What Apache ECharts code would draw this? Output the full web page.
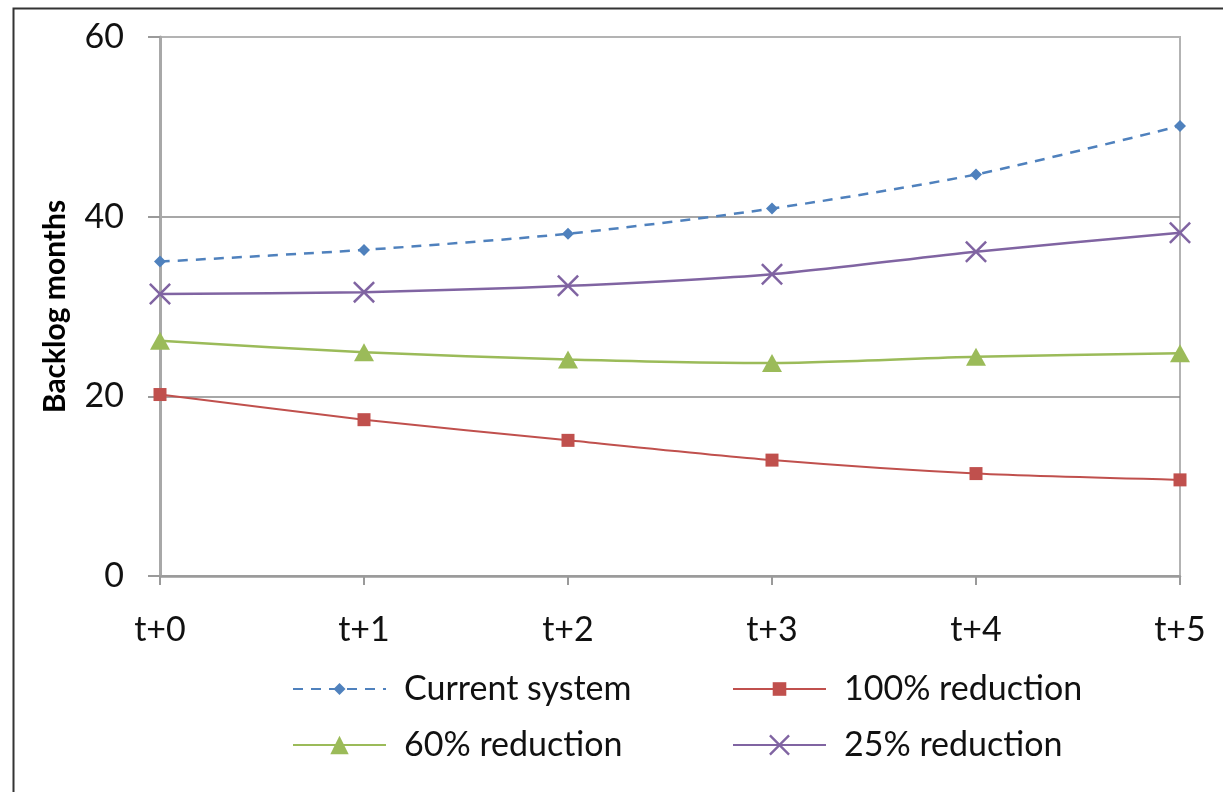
<!DOCTYPE html>
<html>
<head>
<meta charset="utf-8">
<script src="https://cdn.jsdelivr.net/npm/echarts@6/dist/echarts.min.js"></script>
<style>
html,body{margin:0;padding:0;background:#fff;}
#chart{width:1223px;height:792px;}
</style>
</head>
<body>
<div id="chart"></div>
<script>
const categories = ['t+0', 't+1', 't+2', 't+3', 't+4', 't+5'];
const currentSystem = [35.0, 36.3, 38.1, 40.9, 44.7, 50.1];
const reduction100 = [20.2, 17.4, 15.1, 12.9, 11.4, 10.7];
const reduction60 = [26.2, 24.9, 24.1, 23.7, 24.4, 24.8];
const reduction25 = [31.4, 31.6, 32.3, 33.6, 36.1, 38.2];
const seriesNames = ['Current system', '100% reduction', '60% reduction', '25% reduction'];
const yTicks = { min: 0, max: 60, interval: 20 };

const FONT = 'Lato, "Liberation Sans", sans-serif';
const crossPath = 'path://M0,1.6 L1.6,0 L10,8.4 L18.4,0 L20,1.6 L11.6,10 L20,18.4 L18.4,20 L10,11.6 L1.6,20 L0,18.4 L8.4,10 Z';

const chart = echarts.init(document.getElementById('chart'), null, { renderer: 'canvas' });
const legendText = { fontFamily: FONT, fontSize: 34, color: '#111', padding: [0, 0, 0, 13], lineHeight: 40 };
function mkLegend(name, left, top, itemHeight) {
  return { orient: 'horizontal', left: left, top: top, itemWidth: 93, itemHeight: itemHeight,
           data: [name], textStyle: legendText };
}

chart.setOption({
  animation: false,
  backgroundColor: '#fff',
  graphic: [{
    type: 'rect', left: 11, top: 6, z: 100, silent: true,
    shape: { x: 0, y: 0, width: 1300, height: 900 },
    style: { fill: 'none', stroke: '#333', lineWidth: 2 }
  }],
  grid: { left: 160, right: 43, top: 37, bottom: 216, show: true, borderColor: '#b3b3b3', borderWidth: 2, backgroundColor: 'transparent' },
  legend: [
    mkLegend(seriesNames[0], 287, 664, 15),
    mkLegend(seriesNames[2], 287, 720, 23),
    mkLegend(seriesNames[1], 727, 664, 17),
    mkLegend(seriesNames[3], 727, 720, 26)
  ],
  xAxis: {
    type: 'category', data: categories, boundaryGap: false,
    axisLine: { lineStyle: { color: '#9a9a9a', width: 2.5 } },
    axisTick: { show: true, length: 9, inside: false, lineStyle: { color: '#9a9a9a', width: 2 } },
    axisLabel: { fontFamily: FONT, fontSize: 34, color: '#111', margin: 37 },
    splitLine: { show: false }
  },
  yAxis: {
    type: 'value', min: yTicks.min, max: yTicks.max, interval: yTicks.interval,
    name: 'Backlog months', nameLocation: 'middle', nameGap: 90, nameRotate: 90,
    nameTextStyle: { fontFamily: FONT, fontSize: 30, fontWeight: 'bold', color: '#000' },
    axisLine: { show: true, lineStyle: { color: '#a8a8a8', width: 3 } },
    axisTick: { show: true, length: 12, lineStyle: { color: '#9a9a9a', width: 2 } },
    axisLabel: { fontFamily: FONT, fontSize: 34, color: '#111', margin: 36 },
    splitLine: { show: true, lineStyle: { color: ['#9a9a9a', '#8a8a8a', '#8a8a8a', '#b3b3b3'], width: 1.5 } }
  },
  series: [{
    name: seriesNames[0], type: 'line', data: currentSystem, smooth: 0.25,
    symbol: 'diamond', symbolSize: 12, color: '#4F81BD',
    lineStyle: { width: 2.5, type: [10, 8], color: '#4F81BD' }, itemStyle: { color: '#4F81BD' }, z: 5
  }, {
    name: seriesNames[1], type: 'line', data: reduction100, smooth: 0.25,
    symbol: 'rect', symbolSize: 13, color: '#C0504D',
    lineStyle: { width: 2, color: '#C0504D' }, itemStyle: { color: '#C0504D' }, z: 4
  }, {
    name: seriesNames[2], type: 'line', data: reduction60, smooth: 0.25,
    symbol: 'triangle', symbolSize: [20, 18], color: '#9BBB59',
    lineStyle: { width: 2.5, color: '#9BBB59' }, itemStyle: { color: '#9BBB59' }, z: 3
  }, {
    name: seriesNames[3], type: 'line', data: reduction25, smooth: 0.25,
    symbol: crossPath, symbolSize: 22, color: '#8064A2',
    lineStyle: { width: 2.5, color: '#8064A2' }, itemStyle: { color: '#8064A2' }, z: 4
  }]
});
</script>
</body>
</html>
